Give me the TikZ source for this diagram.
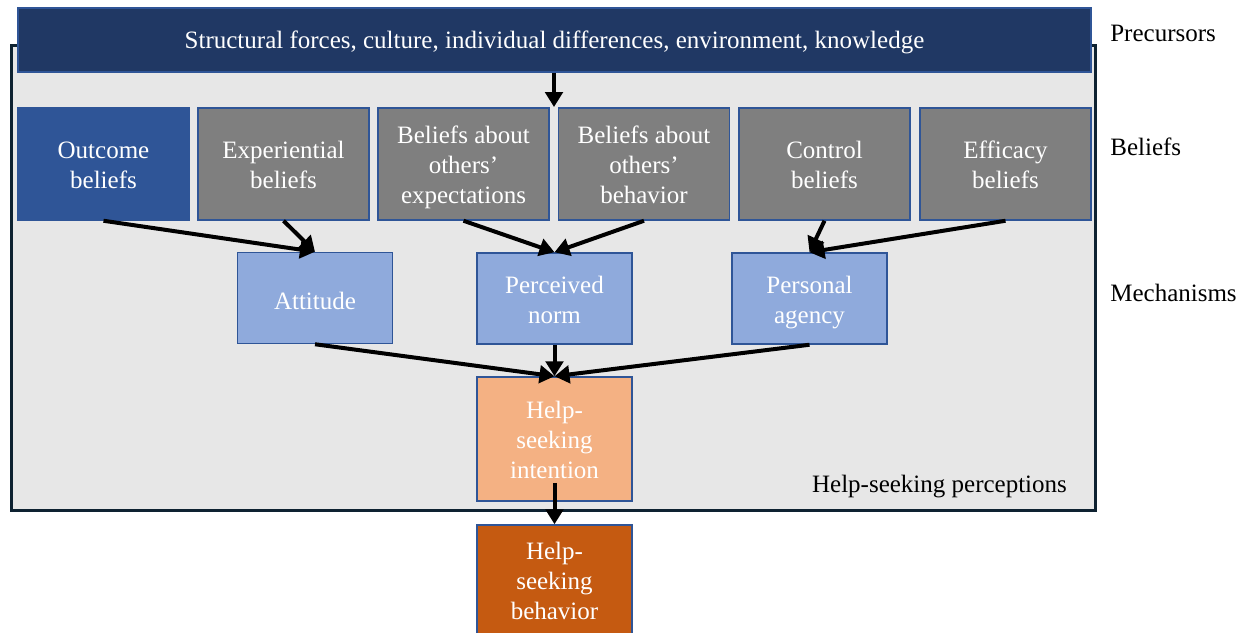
\documentclass[tikz,border=0pt]{standalone}
\usepackage{fontspec}
\setmainfont{Liberation Serif}
\usetikzlibrary{arrows.meta,calc}
\definecolor{navy}{HTML}{203864}
\definecolor{bluebd}{HTML}{2F5597}
\definecolor{outc}{HTML}{2F5597}
\definecolor{grayb}{HTML}{7F7F7F}
\definecolor{mech}{HTML}{8FAADC}
\definecolor{intc}{HTML}{F4B183}
\definecolor{behc}{HTML}{C55A11}
\definecolor{bgc}{HTML}{E7E7E7}
\definecolor{outer}{HTML}{0E2231}
\newcommand{\tstrut}{\rule{0pt}{16.5pt}}
\newcommand{\fl}{\rule{0pt}{15.2pt}}
\newcommand{\topstrut}{\rule{0pt}{14pt}}
\newcommand{\bstrut}{\rule[-3.3pt]{0pt}{3.3pt}}
\tikzset{
  bxbase/.style={draw=bluebd, line width=0.9pt, text=white, align=center, inner sep=0pt,
    font=\fontsize{15pt}{18pt}\selectfont},
  bx/.style={bxbase, execute at begin node=\tstrut, execute at end node=\bstrut},
  ml/.style={bxbase, execute at end node=\bstrut},
  belief/.style={ml, fill=grayb, minimum width=102.6pt, minimum height=67.2pt},
  mechbox/.style={ml, fill=mech, minimum width=93pt, minimum height=54.6pt},
  arr/.style={line width=2.4pt, -{Triangle[length=9pt,width=10.5pt]}},
  lab/.style={anchor=west, font=\fontsize{15pt}{18pt}\selectfont, inner sep=0pt}
}
\begin{document}
\begin{tikzpicture}[x=0.6pt,y=-0.6pt]
\useasboundingbox (0,0) rectangle (1245,632);
% outer gray region
\node[draw=outer, fill=bgc, line width=1.8pt, minimum width=650.4pt, minimum height=279pt, inner sep=0pt] (perc) at (553,277.5) {};
% top bar
\node[bxbase, fill=navy, minimum width=643.8pt, minimum height=38.4pt,
  execute at begin node=\topstrut, execute at end node=\bstrut] (top) at (554.5,40)
  {Structural forces, culture, individual differences, environment, knowledge};
% beliefs
\node[belief, fill=outc] (outcome) at (103.5,164) {\fl Outcome\\beliefs};
\node[belief] (exper) at (283.5,164) {\fl Experiential\\beliefs};
\node[belief] (expect) at (463.5,164) {\fl Beliefs about\\others’\\expectations};
\node[belief] (obehav) at (644,164) {\fl Beliefs about\\others’\\behavior};
\node[belief] (control) at (824.5,164) {\fl Control\\beliefs};
\node[belief] (effic) at (1005.5,164) {\fl Efficacy\\beliefs};
% mechanisms
\node[bx, fill=mech, minimum width=93pt, minimum height=54.6pt] (att) at (315,298) {Attitude};
\node[mechbox] (norm) at (554.5,298.5) {\fl Perceived\\norm};
\node[mechbox] (agency) at (809.5,298.5) {\fl Personal\\agency};
% intention & behavior
\node[ml, fill=intc, minimum width=93pt, minimum height=74.4pt] (int) at (554.5,439) {\fl Help-\\seeking\\intention};
\node[ml, fill=behc, minimum width=93pt, minimum height=66pt] (beh) at (554.5,580) {\fl Help-\\seeking\\behavior};
% labels
\node[lab] (lpre) at (1110,33) {Precursors};
\node[lab] (lbel) at (1110,147) {Beliefs};
\node[lab] (lmech) at (1110,293) {Mechanisms};
\node[font=\fontsize{15pt}{18pt}\selectfont, inner sep=0pt] (lperc) at (939.5,486) {\strut Help-seeking perceptions};
% arrows
\coordinate (topend) at (554,107);
\draw[arr] (top.south -| topend) -- (topend);
\draw[arr] (outcome.south) -- (att.north);
\draw[arr] (exper.south) -- (att.north);
\draw[arr] (expect.south) -- (norm.north);
\draw[arr] (obehav.south) -- (norm.north);
\draw[arr] (control.south) -- (agency.north);
\draw[arr] (effic.south) -- (agency.north);
\draw[arr] (att.south) -- (int.north);
\draw[arr] (norm.south) -- (int.north);
\draw[arr] (agency.south) -- (int.north);
\draw[arr] ([yshift=11.4pt]int.south) -- (beh.north);
\end{tikzpicture}
\end{document}
